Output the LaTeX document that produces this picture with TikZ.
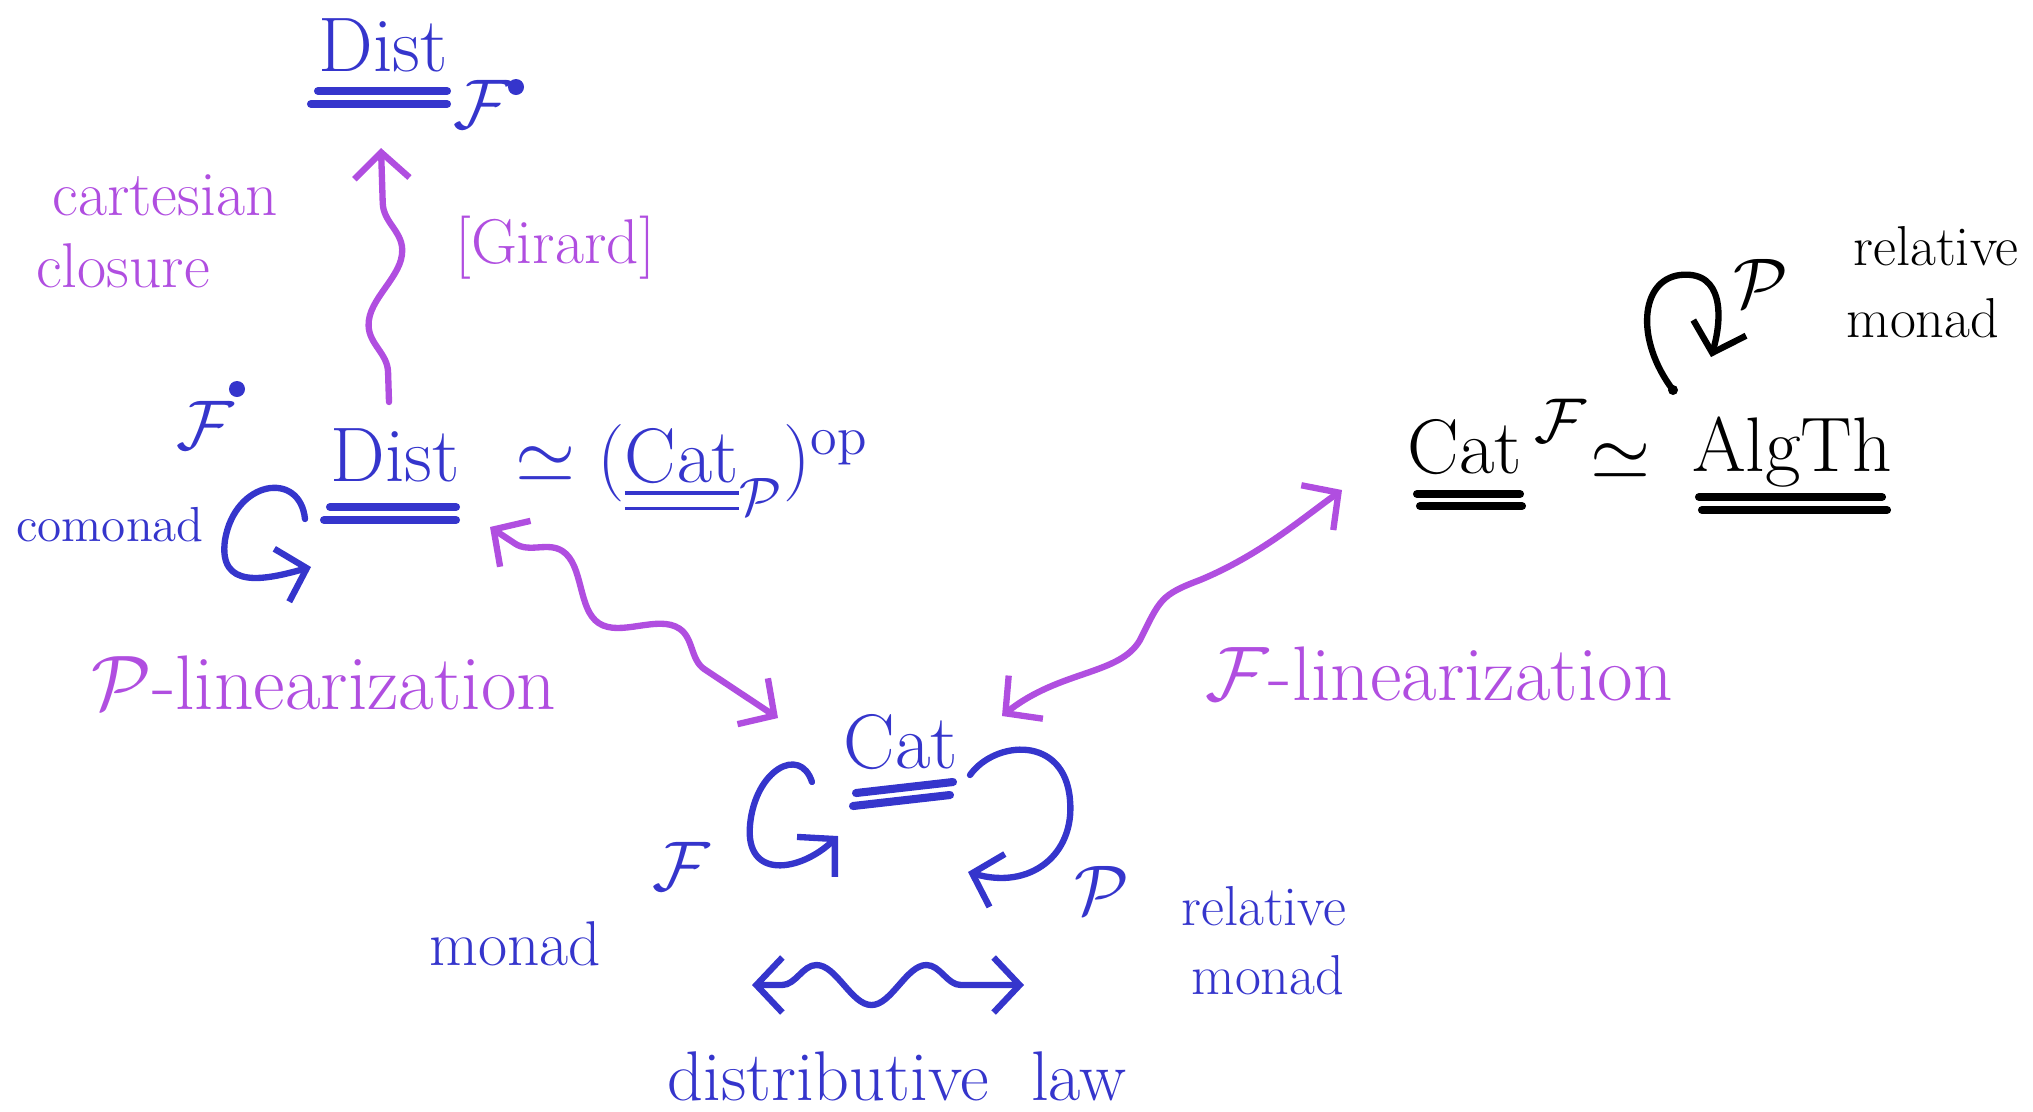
\RequirePackage{fix-cm}
\documentclass[tikz,border=0pt]{standalone}
\usepackage{amsmath,amssymb}
\usetikzlibrary{arrows.meta,decorations.pathmorphing}
\definecolor{inkblue}{HTML}{3535CC}
\definecolor{inkpurple}{HTML}{B04EE0}
\begin{document}
\begin{tikzpicture}[x=0.01cm,y=-0.01cm,
  ink/.style={line width=1.8pt, line cap=round, line join=round},
  uline/.style={line width=2.3pt, line cap=round},
  barb/.style={-{Straight Barb[length=2.6mm,width=5.5mm,line width=1.8pt]}},
  dbarb/.style={{Straight Barb[length=2.6mm,width=5.5mm,line width=1.8pt]}-{Straight Barb[length=2.6mm,width=5.5mm,line width=1.8pt]}},
  big/.style={font=\fontsize{22}{26}\selectfont, inner sep=0pt},
  lab/.style={font=\fontsize{#1}{#1}\selectfont, inner sep=0pt},
  wavy/.style 2 args={decorate, decoration={snake, amplitude=#1, segment length=#2, pre length=3mm, post length=4mm}},
  B/.style={text=inkblue, draw=none},
  Pp/.style={text=inkpurple, draw=none}]
\useasboundingbox (0,0) rectangle (2033,1111);

% ---------- top Dist_F ----------
\node[big,B] (distTop) at (383,45) {Dist};
\draw[uline,inkblue] (318,91) -- (447,91);
\draw[uline,inkblue] (311,104) -- (447,104);
\node[lab=20,B] (Fsub) at (482,104) {$\mathcal{F}$};
\fill[inkblue] (516,87) circle (0.08cm);

% ---------- cartesian closure ----------
\node[lab=18,Pp] (cart) at (165,195) {cartesian};
\node[lab=18,Pp] (clos) at (123,266) {closure};
\node[lab=18,Pp] (girard) at (555,248) {[Girard]};

% ---------- middle Dist ----------
\node[big,B] (distMid) at (395,455) {Dist};
\draw[uline,inkblue] (330,507) -- (456,507);
\draw[uline,inkblue] (324,520) -- (456,520);
\node[big,B,anchor=west] (iso) at (515,470) {$\simeq (\underline{\underline{\mathrm{Cat}}}_{\mathcal{P}})^{\mathrm{op}}$};
\node[lab=20,B] (Fmid) at (205,425) {$\mathcal{F}$};
\fill[inkblue] (237,389) circle (0.08cm);
\node[lab=14,B] (comonad) at (110,525) {comonad};

% comonad loop
\coordinate (cs) at (305,519);
\coordinate (ce) at (311,567);
\draw[ink,inkblue,barb] (cs) .. controls (300,470) and (235,480) .. (225,540)
   .. controls (218,590) and (265,580) .. (ce);

% squiggle Dist -> Dist_F
\coordinate (g1) at (389,402);
\coordinate (g2) at (381,148);
\draw[ink,inkpurple,barb,wavy={1.8mm}{15mm}] (g1) -- (g2);

% ---------- linearizations ----------
\node[lab=22,Pp] (plin) at (324,683) {$\mathcal{P}$-linearization};
\node[lab=22,Pp] (flin) at (1439,674) {$\mathcal{F}$-linearization};

% ---------- Cat ----------
\node[big,B] (cat) at (901,742) {Cat};
\draw[uline,inkblue] (856,793) -- (953,782);
\draw[uline,inkblue] (853,806) -- (950,795);

% Dist <-> Cat
\coordinate (d1) at (490,527);
\coordinate (d2) at (778,718);
\draw[ink,inkpurple,dbarb,wavy={2mm}{14mm}] (d1) -- (d2);

% Cat <-> Cat^F
\coordinate (c1) at (1002,716);
\coordinate (c2) at (1342,490);
\draw[ink,inkpurple,dbarb] (c1) .. controls (1060,670) and (1120,675) .. (1140,640)
   .. controls (1160,600) and (1160,595) .. (1200,580)
   .. controls (1260,555) and (1300,520) .. (c2);

% F loop (monad)
\coordinate (fs) at (812,782);
\coordinate (fe) at (838,836);
\draw[ink,inkblue,barb] (fs) .. controls (800,745) and (755,770) .. (750,825)
   .. controls (745,880) and (800,872) .. (fe);
\node[lab=20,B] (Fcat) at (681,866) {$\mathcal{F}$};
\node[lab=18,B] (monad) at (515,944) {monad};

% P loop (relative monad)
\coordinate (ps) at (970,775);
\coordinate (pe) at (968,872);
\draw[ink,inkblue,barb] (ps) .. controls (995,740) and (1065,735) .. (1070,800)
   .. controls (1075,855) and (1030,890) .. (pe);
\node[lab=20,B] (Pcat) at (1102,890) {$\mathcal{P}$};
\node[lab=16,B] (rel1) at (1264,906) {relative};
\node[lab=16,B] (mon1) at (1268,975) {monad};

% distributive law
\coordinate (l1) at (752,985);
\coordinate (l2) at (1024,985);
\draw[ink,inkblue,dbarb,wavy={2mm}{11mm}] (l1) -- (l2);
\node[lab=20,B] (dlaw) at (897,1076) {distributive\ \ law};

% ---------- Cat^F ~ AlgTh ----------
\node[big] (catF) at (1465,447) {Cat};
\node[lab=18] (supF) at (1560,421) {$\mathcal{F}$};
\draw[uline] (1417,494) -- (1520,494);
\draw[uline] (1420,506) -- (1522,506);
\node[big] (sim) at (1621,462) {$\simeq$};
\node[big] (alg) at (1792,452) {AlgTh};
\draw[uline] (1699,497) -- (1882,497);
\draw[uline] (1702,510) -- (1887,510);

% black loop
\coordinate (bs) at (1673,390);
\coordinate (be) at (1711,357);
\fill (bs) circle (0.05cm);
\draw[ink,barb] (bs) .. controls (1635,340) and (1640,280) .. (1680,275)
   .. controls (1725,270) and (1722,320) .. (be);
\node[lab=20] (Pblk) at (1761,283) {$\mathcal{P}$};
\node[lab=16] (rel2) at (1936,246) {relative};
\node[lab=16] (mon2) at (1923,318) {monad};
\end{tikzpicture}
\end{document}
